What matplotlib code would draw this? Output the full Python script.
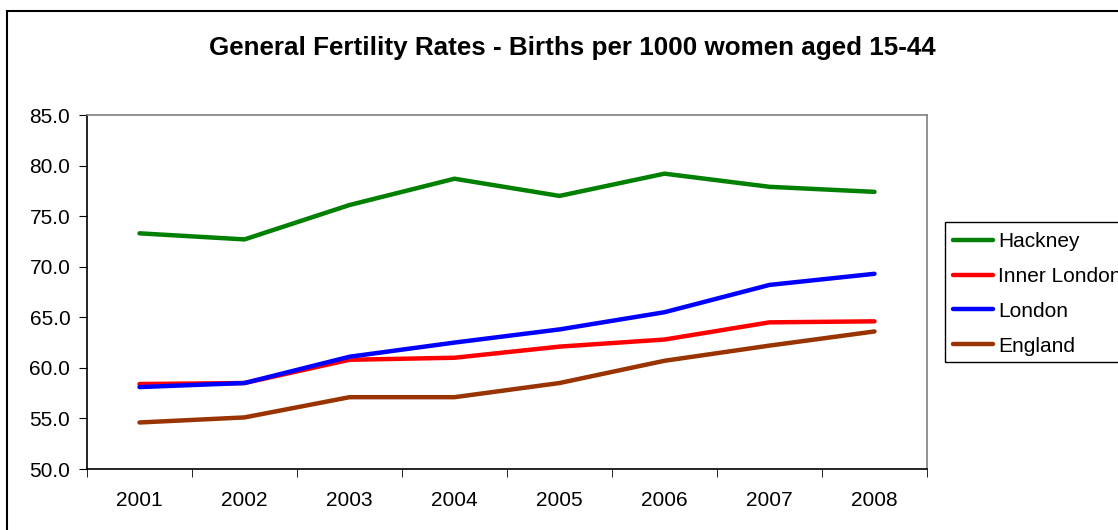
import matplotlib.pyplot as plt
from matplotlib.patches import Rectangle

plt.rcParams['font.family'] = ['Liberation Sans', 'DejaVu Sans']

anos = ['2001', '2002', '2003', '2004', '2005', '2006', '2007', '2008']

hackney = [73.3, 72.7, 76.1, 78.7, 77.0, 79.2, 77.9, 77.4]
inner_london = [58.4, 58.5, 60.8, 61.0, 62.1, 62.8, 64.5, 64.6]
london = [58.1, 58.5, 61.1, 62.5, 63.8, 65.5, 68.2, 69.3]
england = [54.6, 55.1, 57.1, 57.1, 58.5, 60.7, 62.2, 63.6]

series = [
    ('Hackney', hackney, '#008000'),
    ('Inner London', inner_london, '#FF0000'),
    ('London', london, '#0000FF'),
    ('England', england, '#993300'),
]

W, H = 1118, 530
fig = plt.figure(figsize=(W / 100, H / 100), dpi=100)
ax = fig.add_axes([87 / W, 1 - 469 / H, (927 - 87) / W, (469 - 115) / H])

x = list(range(len(anos)))
for nome, valores, cor in series:
    ax.plot(x, valores, color=cor, lw=3.2, label=nome, solid_capstyle='round')

ax.set_xlim(-0.5, len(anos) - 0.5)
ax.set_ylim(50, 85)
ax.set_yticks([50, 55, 60, 65, 70, 75, 80, 85])
ax.set_yticklabels(['%.1f' % v for v in ax.get_yticks()])
ax.set_xticks(x)
ax.set_xticklabels(anos)
ax.set_xticks([i - 0.5 for i in range(len(anos) + 1)], minor=True)
ax.tick_params(axis='x', which='major', length=0, pad=16, labelsize=15)
ax.tick_params(axis='x', which='minor', length=6, direction='out', color='black')
ax.tick_params(axis='y', length=6, direction='out', labelsize=15, pad=6)

ax.spines['left'].set_color('black')
ax.spines['bottom'].set_color('black')
ax.spines['top'].set_color('#808080')
ax.spines['right'].set_color('#808080')
for s in ax.spines.values():
    s.set_linewidth(1.2)

fig.text(572 / W, 1 - 48 / H, 'General Fertility Rates - Births per 1000 women aged 15-44',
         ha='center', va='center', fontsize=18.7, fontweight='bold')

# legenda sem moldura, moldura desenhada a parte (cortada na direita como no original)
leg = ax.legend(loc='upper left', bbox_to_anchor=(953 / W, 1 - 232 / H),
                bbox_transform=fig.transFigure, frameon=False, fontsize=15,
                handlelength=1.9, handletextpad=0.25, labelspacing=0.76,
                borderaxespad=0, borderpad=0)
fig.patches.append(Rectangle((945 / W, 1 - 362 / H), 200 / W, 140 / H,
                             transform=fig.transFigure, fill=False,
                             edgecolor='black', lw=1))

# moldura externa do grafico
fig.patches.append(Rectangle((7 / W, -0.05), 1.2, 1 - 11 / H + 0.05,
                             transform=fig.transFigure, fill=False,
                             edgecolor='black', lw=1.5))

fig.savefig('out.png', dpi=100)
